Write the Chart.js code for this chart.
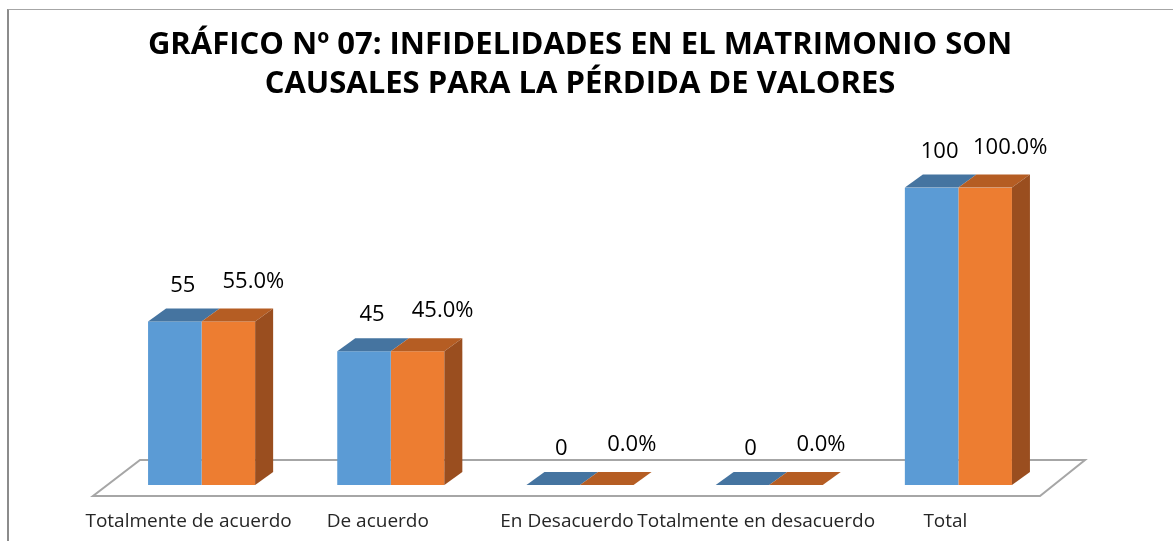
<!DOCTYPE html>
<html>
<head>
<meta charset="utf-8">
<script src="https://cdn.jsdelivr.net/npm/chart.js@4"></script>
<style>
  html, body { margin: 0; padding: 0; background: #fff; }
  #wrap { position: relative; width: 1173px; height: 541px; }
  #frame { position: absolute; left: 7px; top: 9px; right: 0; bottom: 0;
           border-top: 1px solid #a6a6a6; border-left: 2px solid #8c8c8c; }
</style>
</head>
<body>
<div id="wrap">
  <div id="frame"></div>
  <canvas id="plot" width="1173" height="541"></canvas>
</div>
<script>
// chart data
const categories = ['Totalmente de acuerdo', 'De acuerdo', 'En Desacuerdo', 'Totalmente en desacuerdo', 'Total'];
const frecuencia = [55, 45, 0, 0, 100];
const porcentaje = [55.0, 45.0, 0.0, 0.0, 100.0];
const titleLines = ['GRÁFICO Nº 07: INFIDELIDADES EN EL MATRIMONIO SON', 'CAUSALES PARA LA PÉRDIDA DE VALORES'];

// 3D look
const DEPTH_X = 18;
const DEPTH_Y = -13;
const faces = [
    {front: '#5b9bd5', top: '#4574a0', side: '#3f6b94'},
    {front: '#ed7d31', top: '#b55d23', side: '#9a4e1f'}
];

const floorPlugin = {
    id: 'floor3d',
    beforeDatasetsDraw(chart) {
        const {ctx, chartArea: a} = chart;
        ctx.save();
        ctx.beginPath();
        ctx.moveTo(a.left - 14, a.bottom + 11);
        ctx.lineTo(a.right - 13, a.bottom + 11);
        ctx.lineTo(a.right + 32, a.bottom - 25);
        ctx.lineTo(a.left + 33, a.bottom - 25);
        ctx.closePath();
        ctx.fillStyle = '#ffffff';
        ctx.fill();
        ctx.strokeStyle = '#a6a6a6';
        ctx.lineWidth = 2;
        ctx.stroke();
        ctx.restore();
    },
    afterDatasetsDraw(chart) {
        const {ctx} = chart;
        ctx.save();
        chart.data.datasets.forEach((ds, di) => {
            const meta = chart.getDatasetMeta(di);
            const f = faces[di];
            meta.data.forEach(bar => {
                const l = bar.x - bar.width / 2;
                const r = bar.x + bar.width / 2;
                // top face
                ctx.beginPath();
                ctx.moveTo(l, bar.y);
                ctx.lineTo(r, bar.y);
                ctx.lineTo(r + DEPTH_X, bar.y + DEPTH_Y);
                ctx.lineTo(l + DEPTH_X, bar.y + DEPTH_Y);
                ctx.closePath();
                ctx.fillStyle = f.top;
                ctx.fill();
                // right side only visible on the last series
                if (di === chart.data.datasets.length - 1 && bar.base - bar.y > 0.5) {
                    ctx.beginPath();
                    ctx.moveTo(r, bar.y);
                    ctx.lineTo(r + DEPTH_X, bar.y + DEPTH_Y);
                    ctx.lineTo(r + DEPTH_X, bar.base + DEPTH_Y);
                    ctx.lineTo(r, bar.base);
                    ctx.closePath();
                    ctx.fillStyle = f.side;
                    ctx.fill();
                }
            });
        });
        // value labels
        ctx.font = '22px "Open Sans", sans-serif';
        ctx.fillStyle = '#000000';
        ctx.textAlign = 'center';
        ctx.textBaseline = 'middle';
        chart.data.datasets.forEach((ds, di) => {
            const meta = chart.getDatasetMeta(di);
            meta.data.forEach((bar, i) => {
                const v = ds.data[i];
                const txt = di === 0 ? String(v) : v.toFixed(1) + '%';
                const dx = di === 0 ? 8 : 25;
                const dy = di === 0 ? -36 : -40;
                ctx.fillText(txt, bar.x + dx, bar.y + dy);
            });
        });
        ctx.restore();
    }
};

new Chart(document.getElementById('plot').getContext('2d'), {
    type: 'bar',
    data: {
        labels: categories,
        datasets: [
            {label: 'Frecuencia', data: frecuencia, backgroundColor: faces[0].front,
             barPercentage: 1, categoryPercentage: 0.566},
            {label: 'Porcentaje', data: porcentaje, backgroundColor: faces[1].front,
             barPercentage: 1, categoryPercentage: 0.566}
        ]
    },
    options: {
        responsive: false,
        animation: false,
        layout: {padding: {left: 107, right: 120, top: 0, bottom: 0}},
        scales: {
            x: {
                grid: {display: false, drawTicks: false},
                border: {display: false},
                afterFit: scale => { scale.height = 56; },
                ticks: {
                    padding: 25,
                    labelOffset: -13,
                    maxRotation: 0,
                    autoSkip: false,
                    color: '#262626',
                    font: {family: '"Open Sans", sans-serif', size: 19}
                }
            },
            y: {display: false, min: 0, max: 100}
        },
        plugins: {
            legend: {display: false},
            tooltip: {enabled: false},
            title: {
                display: true,
                text: titleLines,
                color: '#000000',
                font: {family: '"Open Sans", sans-serif', size: 31, weight: 'bold', lineHeight: 1.25},
                padding: {top: 26, bottom: 84}
            }
        }
    },
    plugins: [floorPlugin]
});
</script>
</body>
</html>
